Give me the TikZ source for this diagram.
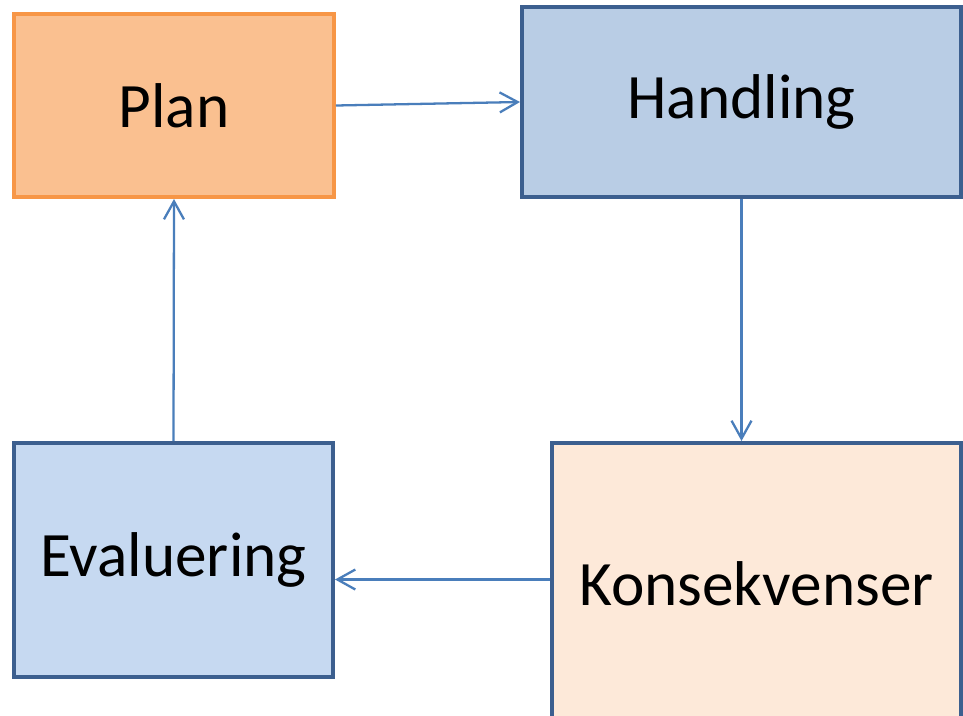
\documentclass[tikz,border=0pt]{standalone}
\usepackage{fontspec}
\setmainfont{Carlito}
\usepackage{xcolor}
\usepackage{tikz}
\usetikzlibrary{calc,arrows.meta}
\definecolor{planfill}{HTML}{FAC090}
\definecolor{planline}{HTML}{F79646}
\definecolor{blafill}{HTML}{B9CDE5}
\definecolor{lysbla}{HTML}{C6D9F1}
\definecolor{laksfill}{HTML}{FDE9D9}
\definecolor{boksline}{HTML}{3C5F8F}
\definecolor{pil}{HTML}{4A7EBB}
\tikzset{
  boks/.style={draw=boksline, line width=2.3pt, rectangle, inner sep=0pt,
    font=\fontsize{36}{43}\selectfont, text=black},
  link/.style={draw=pil, line width=1.3pt, -{Straight Barb[length=3.6mm,width=4mm]}},
}

\begin{document}
\begin{tikzpicture}[x=0.02cm, y=-0.02cm]
  \useasboundingbox (0,0) rectangle (963,716);
  \fill[white] (0,0) rectangle (963,716);

  \node[boks, draw=planline, fill=planfill, minimum width=6.4cm, minimum height=3.66cm] (plan) at (174,105.5) {Plan};
  \node[boks, fill=blafill, minimum width=8.78cm, minimum height=3.8cm] (handling) at (741.5,102) {Handling};
  \node[boks, fill=lysbla, minimum width=6.38cm, minimum height=4.68cm] (eval) at (173.5,560) {Evaluering};
  \node[boks, fill=laksfill, minimum width=8.18cm, minimum height=5.62cm] (kons) at (756.5,583.5) {Konsekvenser};

  \draw[link] (plan.east) -- (handling.west);
  \draw[link] (handling.south) -- (handling.south |- kons.north);
  \draw[link] ($(kons.west)+(0,-4)$) coordinate (k) -- (k -| eval.east);
  \draw[link] (eval.north) -- (plan.south);
\end{tikzpicture}
\end{document}
